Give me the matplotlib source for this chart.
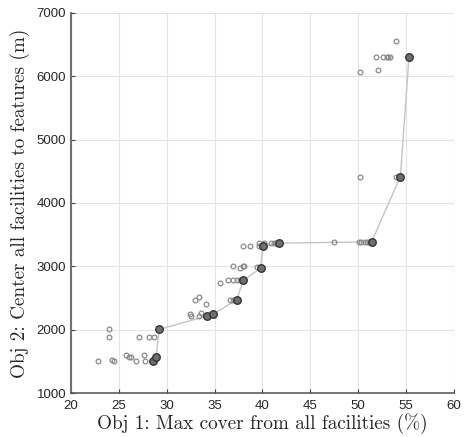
import numpy as np
import matplotlib.pyplot as plt

# pareto front (large dark markers)
front_x = [28.6, 28.9, 29.2, 34.2, 34.8, 37.3, 38.0, 39.8, 40.05, 41.7, 51.4, 54.4, 55.3]
front_y = [1510, 1572, 2008, 2217, 2249, 2469, 2780, 2973, 3320, 3367, 3388, 4417, 6296]

# all other solutions (small hollow markers)
sol_x = [22.8, 24.0, 23.97, 24.3, 24.5, 25.7, 26.1, 26.3, 26.8, 27.07, 27.65, 27.7,
         28.1, 28.7, 32.4, 32.5, 33.0, 33.4, 33.4, 33.6, 34.1, 35.6, 36.4, 36.9,
         37.3, 37.6, 36.6, 36.95, 36.9, 37.6, 37.96, 38.1, 38.0, 38.7, 39.4, 39.6,
         39.6, 40.2, 40.85, 41.2, 41.4, 47.5, 50.1, 50.3, 50.7, 50.9, 51.1,
         50.2, 53.9, 50.2, 52.1, 51.9, 52.55, 53.0, 53.1, 53.3, 53.9]
sol_y = [1509, 2008, 1891, 1525, 1514, 1608, 1577, 1572, 1509, 1891, 1608, 1509,
         1891, 1891, 2254, 2222, 2474, 2512, 2222, 2270, 2406, 2737, 2780, 2780,
         2780, 2780, 2469, 2469, 3004, 2978, 3000, 3000, 3320, 3320, 2994, 3367,
         3320, 3372, 3367, 3367, 3367, 3388, 3388, 3388, 3388, 3388, 3388,
         4417, 4417, 6071, 6096, 6301, 6301, 6301, 6301, 6301, 6548]

x_ticks = np.arange(20, 61, 5)
y_ticks = np.arange(1000, 7001, 1000)

fig = plt.figure(figsize=(4.69, 4.37), dpi=100)
ax = fig.add_axes([0.1514, 0.100, 0.8166, 0.871])

ax.plot(front_x, front_y, '-', color='#c4c4c4', lw=1.0, zorder=2)
ax.plot(sol_x, sol_y, 'o', ms=3.4, mfc='none', mec='#8a8a8a', mew=0.9, zorder=3)
ax.plot(front_x, front_y, 'o', ms=5.4, mfc='#6f6f6f', mec='#333333', mew=1.0, zorder=4)

ax.set_xlim(20, 60)
ax.set_ylim(1000, 7000)
ax.set_xticks(x_ticks)
ax.set_yticks(y_ticks)
ax.grid(True, color='#e3e3e3', lw=0.8)
ax.set_axisbelow(True)

for s in ['top', 'right']:
    ax.spines[s].set_visible(False)
ax.spines['bottom'].set_color('#505050')
ax.spines['bottom'].set_linewidth(1.1)
ax.spines['left'].set_color('#707070')
ax.spines['left'].set_linewidth(1.5)

ax.tick_params(direction='in', length=3, width=0.8, color='#404040',
               labelsize=9.5, labelcolor='#262626')
ax.tick_params(axis='x', pad=5)
ax.tick_params(axis='y', pad=3.5)
for lab in ax.get_xticklabels() + ax.get_yticklabels():
    lab.set_family('Liberation Sans')

ax.set_xlabel('Obj 1: Max cover from all facilities (%)', family='cmr10',
              fontsize=13.8, color='#262626', labelpad=1)
ax.set_ylabel('Obj 2: Center all facilities to features (m)', family='cmr10',
              fontsize=13.8, color='#262626', labelpad=5)

fig.savefig('out.png', dpi=100)
